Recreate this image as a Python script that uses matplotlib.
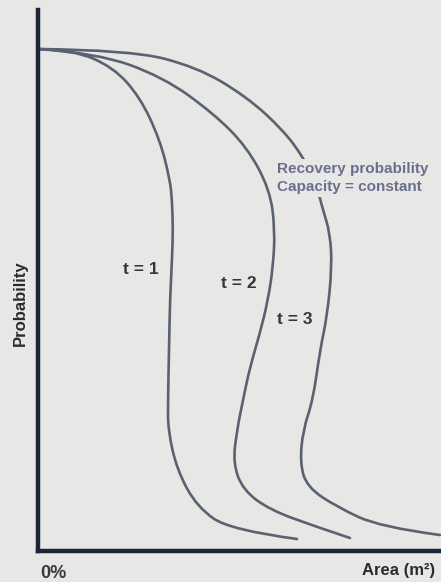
# 面積と確率の概念図 (t = 1, 2, 3)
import matplotlib.pyplot as plt
from matplotlib.path import Path
from matplotlib.patches import PathPatch

# 曲線の読み取り値 (x: Area, y: Probability, 原点 = 0%)
t1_area = [0, 35, 75, 102, 122, 132, 134, 135, 134, 132, 131, 130, 130, 139, 159, 192, 259]
t1_prob = [502, 501, 484, 454, 411, 371, 351, 321, 291, 251, 201, 151, 121, 81, 44, 21, 12]

t2_area = [0, 59, 125, 175, 209, 232, 237, 235, 230, 222, 212, 205, 199, 195, 205, 232, 279, 312]
t2_prob = [502, 498, 474, 438, 404, 361, 321, 284, 251, 218, 184, 151, 121, 88, 61, 41, 24, 13]

t3_area = [0, 92, 159, 209, 245, 265, 277, 285, 292, 294, 289, 282, 275, 265, 262, 269, 299, 342, 402]
t3_prob = [502, 501, 484, 454, 421, 394, 371, 341, 318, 284, 234, 201, 151, 121, 88, 64, 44, 24, 16]

curve_labels = ["t = 1", "t = 2", "t = 3"]
label_pos = [(103, 282), (201, 267), (257, 232)]

bg = "#e7e8e5"
axis_col = "#1b2538"
line_col = "#5a6272"

plt.rcParams["font.family"] = ["Liberation Sans", "DejaVu Sans"]

fig = plt.figure(figsize=(4.41, 5.82), dpi=100)
fig.patch.set_facecolor(bg)
ax = fig.add_axes([38 / 441, 31 / 582, 403 / 441, 551 / 582])
ax.set_facecolor(bg)
ax.set_xlim(0, 403)
ax.set_ylim(0, 551)


def smooth_curve(xs, ys):
    # 読み取り点を制御点にして2次ベジェでつなぐ
    pts = list(zip(xs, ys))
    verts = [pts[0]]
    codes = [Path.MOVETO]
    for i in range(1, len(pts) - 1):
        mid = ((pts[i][0] + pts[i + 1][0]) / 2, (pts[i][1] + pts[i + 1][1]) / 2)
        if i == len(pts) - 2:
            mid = pts[-1]
        verts += [pts[i], mid]
        codes += [Path.CURVE3, Path.CURVE3]
    return Path(verts, codes)


for xs, ys in [(t1_area, t1_prob), (t2_area, t2_prob), (t3_area, t3_prob)]:
    ax.add_patch(PathPatch(smooth_curve(xs, ys), facecolor="none",
                           edgecolor=line_col, lw=1.9, capstyle="round"))

for lab, (x, y) in zip(curve_labels, label_pos):
    ax.text(x, y, lab, fontsize=12.5, fontweight="bold", color="#35353d",
            ha="center", va="center")

# 凡例的な注記 (t = 3 の線を隠す)
ax.text(239, 373, "Recovery probability\nCapacity = constant", fontsize=11,
        fontweight="bold", color="#6b6e8e", ha="left", va="center",
        linespacing=1.45, zorder=5,
        bbox=dict(boxstyle="square,pad=0.15", fc=bg, ec="none"))

# 軸
for s in ["top", "right"]:
    ax.spines[s].set_visible(False)
ax.spines["left"].set_linewidth(3.2)
ax.spines["bottom"].set_linewidth(3.2)
ax.spines["left"].set_color(axis_col)
ax.spines["bottom"].set_color(axis_col)
ax.spines["left"].set_bounds(0, 541)
ax.set_xticks([])
ax.set_yticks([])

fig.text(20 / 441, 1 - 303 / 582, "Probability", rotation=90, fontsize=12,
         fontweight="bold", color="#2a2a30", ha="center", va="center")
fig.text(40 / 441, 1 - 573 / 582, "0%", fontsize=13, fontweight="bold",
         color="#3a3a3a", ha="left", va="center")
fig.text(362 / 441, 1 - 571 / 582, "Area (m²)", fontsize=12, fontweight="bold",
         color="#2a2a30", ha="left", va="center")

fig.savefig("out.png", dpi=100, facecolor=bg)
